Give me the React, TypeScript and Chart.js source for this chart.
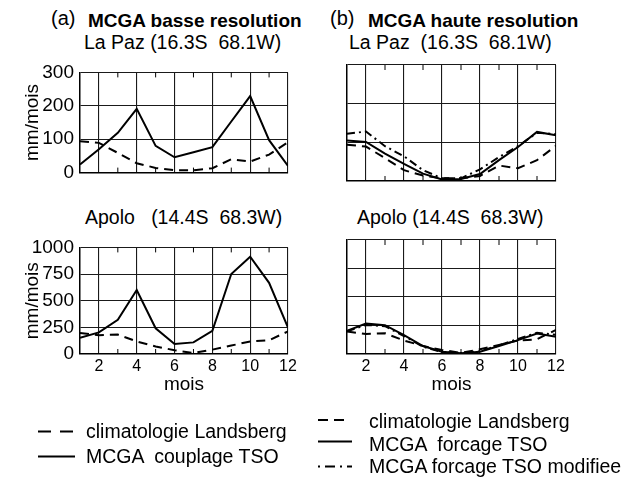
import React, { useEffect, useRef } from "react";
import { Chart, registerables } from "chart.js";

Chart.register(...registerables);

const FONT = "'Liberation Sans', Arial, Helvetica, sans-serif";

// ---- data ----
const months = [1, 2, 3, 4, 5, 6, 7, 8, 9, 10, 11, 12];
const xTickValues = [2, 4, 6, 8, 10, 12];
const minorTickValues = [3, 5, 7, 9, 11];
const laPazTickValues = [0, 100, 200, 300];
const apoloTickValues = [0, 250, 500, 750, 1000];

const laPazLandsberg = [94, 89, 59, 28, 14, 7, 7, 13, 40, 33, 54, 91];
const laPazCouplage = [24, 70, 119, 191, 80, 46, 61, 76, 153, 229, 97, 20];
const laPazForcage = [105, 101, 71, 44, 19, 4, 5, 18, 54, 88, 127, 118];
const laPazModifiee = [122, 128, 90, 64, 28, 7, 7, 30, 62, 90, 125, 121];

const apoloLandsberg = [197, 176, 182, 118, 71, 35, 10, 41, 79, 118, 129, 212];
const apoloCouplage = [153, 203, 320, 600, 241, 94, 109, 218, 750, 912, 668, 247];
const apoloForcage = [203, 267, 253, 166, 70, 20, 6, 20, 70, 122, 180, 151];
const apoloModifiee = [198, 255, 244, 158, 64, 17, 8, 24, 76, 132, 186, 168];

const labelLandsberg = "climatologie Landsberg";
const labelCouplage = "MCGA  couplage TSO";
const labelForcage = "MCGA  forcage TSO";
const labelModifiee = "MCGA forcage TSO modifiee";

const DASH_LANDSBERG = [9, 6];
const DASH_SOLID: number[] = [];
const DASH_MODIF = [8, 4, 2, 4];

type Series = { label: string; values: number[]; dash: number[] };

type PanelProps = {
  left: number;
  top: number;
  width: number;
  height: number;
  padLeft: number;
  padRight: number;
  padTop: number;
  yWidth: number;
  xHeight: number;
  showY: boolean;
  showX: boolean;
  yTicks: number[];
  yMax: number;
  series: Series[];
};

const innerTicksPlugin = {
  id: "innerTicks",
  afterDraw(chart: any) {
    const { ctx, chartArea, scales } = chart;
    ctx.save();
    ctx.strokeStyle = "#000";
    ctx.lineWidth = 1;
    minorTickValues.forEach((m) => {
      const x = scales.x.getPixelForValue(m);
      ctx.beginPath();
      ctx.moveTo(x, chartArea.top);
      ctx.lineTo(x, chartArea.top + 5);
      ctx.moveTo(x, chartArea.bottom);
      ctx.lineTo(x, chartArea.bottom - 5);
      ctx.stroke();
    });
    ctx.restore();
  },
};

function Panel(p: PanelProps) {
  const ref = useRef<HTMLCanvasElement | null>(null);
  useEffect(() => {
    if (!ref.current) return;
    const chart = new Chart(ref.current, {
      type: "line",
      data: {
        datasets: p.series.map((s) => ({
          label: s.label,
          data: months.map((m, i) => ({ x: m, y: s.values[i] })),
          borderColor: "#000",
          borderWidth: 2,
          borderDash: s.dash,
          pointRadius: 0,
          fill: false,
          tension: 0,
        })),
      },
      options: {
        responsive: false,
        animation: false,
        layout: {
          padding: { left: p.padLeft, right: p.padRight, top: p.padTop, bottom: 0 },
        },
        plugins: { legend: { display: false }, tooltip: { enabled: false } },
        scales: {
          x: {
            type: "linear",
            min: 1,
            max: 12,
            afterBuildTicks: (s: any) => {
              s.ticks = xTickValues.map((v) => ({ value: v }));
            },
            afterFit: (s: any) => {
              s.height = p.xHeight;
            },
            grid: { color: "#1a1a1a", lineWidth: 1.1, drawTicks: false },
            border: { color: "#000", width: 1.5 },
            ticks: {
              display: p.showX,
              color: "#000",
              font: { size: 16, family: FONT },
              padding: 3,
              maxRotation: 0,
              autoSkip: false,
              callback: (v: any) => String(v),
            },
            title: {
              display: p.showX,
              text: "mois",
              color: "#000",
              font: { size: 19, family: FONT },
              padding: { top: 0, bottom: 4 },
            },
          },
          y: {
            type: "linear",
            min: 0,
            max: p.yMax,
            afterBuildTicks: (s: any) => {
              s.ticks = p.yTicks.map((v) => ({ value: v }));
            },
            afterFit: (s: any) => {
              s.width = p.yWidth;
            },
            grid: { color: "#1a1a1a", lineWidth: 1.1, drawTicks: false },
            border: { color: "#000", width: 1.5 },
            ticks: {
              display: p.showY,
              color: "#000",
              font: { size: 19, family: FONT },
              padding: 6,
              callback: (v: any) => String(v),
            },
            title: {
              display: p.showY,
              text: "mm/mois",
              color: "#000",
              font: { size: 19, family: FONT },
              padding: { top: 21, bottom: 0 },
            },
          },
        },
      },
      plugins: [innerTicksPlugin],
    } as any);
    return () => chart.destroy();
  }, []);
  return (
    <canvas
      ref={ref}
      width={p.width}
      height={p.height}
      style={{ position: "absolute", left: p.left, top: p.top, width: p.width, height: p.height }}
    />
  );
}

const txt = (
  text: string,
  left: number,
  top: number,
  size: number,
  bold = false
) => (
  <div
    style={{
      position: "absolute",
      left,
      top,
      fontSize: size,
      lineHeight: "20px",
      fontWeight: bold ? 700 : 400,
      whiteSpace: "pre",
      fontFamily: FONT,
      color: "#000",
    }}
  >
    {text}
  </div>
);

export default function App() {
  return (
    <div
      style={{
        position: "absolute",
        left: 0,
        top: 0,
        width: 632,
        height: 487,
        background: "#fff",
        overflow: "hidden",
        fontFamily: FONT,
      }}
    >
      {txt("(a)", 51, 8, 20)}
      {txt("MCGA basse resolution", 88, 11, 19, true)}
      {txt("(b)", 330, 8, 20)}
      {txt("MCGA haute resolution", 368, 11, 19, true)}

      {txt("La Paz (16.3S  68.1W)", 84, 32, 19.5)}
      {txt("La Paz  (16.3S  68.1W)", 349, 32, 19.5)}
      {txt("Apolo   (14.4S  68.3W)", 85, 207, 19.5)}
      {txt("Apolo (14.4S  68.3W)", 357, 207, 19.5)}

      <Panel
        left={0}
        top={55}
        width={300}
        height={135}
        padLeft={0}
        padRight={12}
        padTop={10}
        yWidth={80}
        xHeight={9}
        showY={true}
        showX={false}
        yTicks={laPazTickValues}
        yMax={300}
        series={[
          { label: labelLandsberg, values: laPazLandsberg, dash: DASH_LANDSBERG },
          { label: labelCouplage, values: laPazCouplage, dash: DASH_SOLID },
        ]}
      />
      <Panel
        left={310}
        top={55}
        width={260}
        height={135}
        padLeft={37}
        padRight={14}
        padTop={10}
        yWidth={0}
        xHeight={9}
        showY={false}
        showX={false}
        yTicks={laPazTickValues}
        yMax={300}
        series={[
          { label: labelLandsberg, values: laPazLandsberg, dash: DASH_LANDSBERG },
          { label: labelForcage, values: laPazForcage, dash: DASH_SOLID },
          { label: labelModifiee, values: laPazModifiee, dash: DASH_MODIF },
        ]}
      />
      <Panel
        left={0}
        top={230}
        width={300}
        height={170}
        padLeft={0}
        padRight={12}
        padTop={10}
        yWidth={80}
        xHeight={46}
        showY={true}
        showX={true}
        yTicks={apoloTickValues}
        yMax={1000}
        series={[
          { label: labelLandsberg, values: apoloLandsberg, dash: DASH_LANDSBERG },
          { label: labelCouplage, values: apoloCouplage, dash: DASH_SOLID },
        ]}
      />
      <Panel
        left={310}
        top={230}
        width={260}
        height={170}
        padLeft={37}
        padRight={14}
        padTop={10}
        yWidth={0}
        xHeight={46}
        showY={false}
        showX={true}
        yTicks={apoloTickValues}
        yMax={1000}
        series={[
          { label: labelLandsberg, values: apoloLandsberg, dash: DASH_LANDSBERG },
          { label: labelForcage, values: apoloForcage, dash: DASH_SOLID },
          { label: labelModifiee, values: apoloModifiee, dash: DASH_MODIF },
        ]}
      />

      <svg
        width={632}
        height={487}
        style={{ position: "absolute", left: 0, top: 0, pointerEvents: "none" }}
      >
        <line x1={38} y1={431.5} x2={73} y2={431.5} stroke="#000" strokeWidth={2} strokeDasharray="13 9" />
        <line x1={38} y1={456.5} x2={75} y2={456.5} stroke="#000" strokeWidth={2} />
        <line x1={318} y1={420} x2={344} y2={420} stroke="#000" strokeWidth={2} strokeDasharray="10 6" />
        <line x1={318} y1={441.5} x2={352} y2={441.5} stroke="#000" strokeWidth={2} />
        <line x1={318} y1={466.5} x2={352} y2={466.5} stroke="#000" strokeWidth={2} strokeDasharray="2 5 10 5 2 5 6" />
      </svg>
      {txt(labelLandsberg, 86, 421, 19.5)}
      {txt(labelCouplage, 86, 446, 19.5)}
      {txt(labelLandsberg, 369, 411, 19.5)}
      {txt(labelForcage, 369, 434, 19.5)}
      {txt(labelModifiee, 369, 456, 19.5)}
    </div>
  );
}
